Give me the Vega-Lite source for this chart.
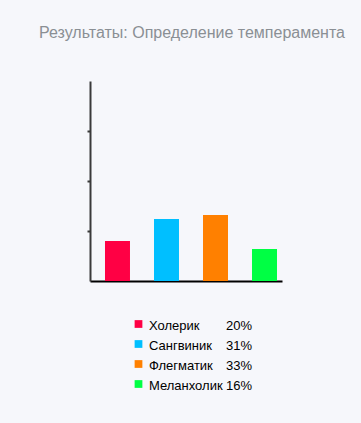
{
  "$schema": "https://vega.github.io/schema/vega-lite/v6.json",
  "background": "#f6f7fb",
  "padding": {"left": 39, "top": 25, "right": 22, "bottom": 30},
  "title": {"text": "Результаты: Определение темперамента", "anchor": "middle", "font": "Liberation Sans", "fontSize": 16, "fontWeight": "normal", "color": "#8a8f94", "offset": 40, "dx": 8},
  "datasets": {
    "d": [
      {"name": "Холерик", "value": 20, "pct": "20%"},
      {"name": "Сангвиник", "value": 31, "pct": "31%"},
      {"name": "Флегматик", "value": 33, "pct": "33%"},
      {"name": "Меланхолик", "value": 16, "pct": "16%"}
    ]
  },
  "spacing": 33,
  "vconcat": [
    {
      "width": 192,
      "height": 200,
      "data": {"name": "d"},
      "mark": {"type": "bar"},
      "encoding": {
        "x": {"field": "name", "type": "nominal", "sort": null, "scale": {"paddingInner": 0.49, "paddingOuter": 0.204, "align": 0.75}, "axis": {"labels": false, "ticks": false, "title": null, "domainColor": "#000000", "domainWidth": 2}},
        "y": {"field": "value", "type": "quantitative", "scale": {"domain": [0, 100]}, "axis": {"values": [25, 50, 75], "labels": false, "title": null, "grid": false, "domainColor": "#3a3a3a", "domainWidth": 2, "tickColor": "#3a3a3a", "tickWidth": 2, "tickSize": 3}},
        "color": {"field": "name", "type": "nominal", "sort": null, "scale": {"domain": ["Холерик", "Сангвиник", "Флегматик", "Меланхолик"], "range": ["#ff0044", "#00bfff", "#ff8000", "#00ff44"]}, "legend": null}
      }
    },
    {
      "width": 97,
      "height": {"step": 20},
      "data": {"name": "d"},
      "encoding": {"y": {"field": "name", "type": "nominal", "sort": null, "axis": null}},
      "layer": [
        {"mark": {"type": "point", "shape": "square", "filled": true, "size": 60, "opacity": 1},
         "encoding": {"color": {"field": "name", "type": "nominal", "sort": null, "legend": null}}},
        {"mark": {"type": "text", "align": "left", "baseline": "middle", "dx": 10.5, "dy": 1.5, "fontSize": 13, "font": "Liberation Sans", "color": "#000000"},
         "encoding": {"text": {"field": "name"}}},
        {"mark": {"type": "text", "align": "left", "baseline": "middle", "dx": 87.5, "dy": 1.5, "fontSize": 13, "font": "Liberation Sans", "color": "#000000"},
         "encoding": {"text": {"field": "pct"}}}
      ]
    }
  ],
  "config": {"view": {"stroke": null}}
}
